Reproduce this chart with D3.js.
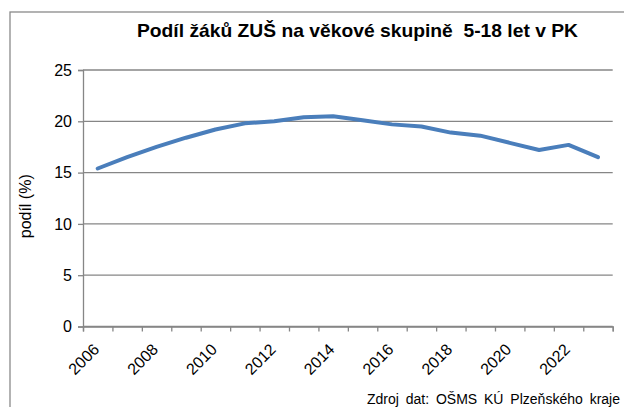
<!DOCTYPE html>
<html>
<head>
<meta charset="utf-8">
<script src="https://cdn.jsdelivr.net/npm/d3@7"></script>
<style>
  body { margin: 0; background: #fff; }
  text { font-family: "Liberation Sans", Arial, sans-serif; }
</style>
</head>
<body>
<div id="chart"></div>
<script>
// data
var years = ["2006", "2007", "2008", "2009", "2010", "2011", "2012", "2013", "2014",
             "2015", "2016", "2017", "2018", "2019", "2020", "2021", "2022", "2023"];
var podil = [15.4, 16.5, 17.5, 18.4, 19.2, 19.8, 20.0, 20.4, 20.5,
             20.1, 19.7, 19.5, 18.9, 18.6, 17.9, 17.2, 17.7, 16.5];
var yTicks = [0, 5, 10, 15, 20, 25];
var xLabels = ["2006", "2008", "2010", "2012", "2014", "2016", "2018", "2020", "2022"];

var W = 624, H = 407;
var plot = {left: 83, right: 612.7, top: 70, bottom: 326.5};
var gray = "#868686";

var svg = d3.select("#chart")
    .append("svg")
    .attr("width", W)
    .attr("height", H);

// outer frame (runs off the right and bottom edge)
svg.append("rect")
    .attr("x", 10).attr("y", 12)
    .attr("width", 640).attr("height", 420)
    .attr("fill", "none")
    .attr("stroke", "#8a8a8a")
    .attr("stroke-width", 1.3);

var x = d3.scaleBand()
    .domain(years)
    .range([plot.left, plot.right])
    .padding(0);

var y = d3.scaleLinear()
    .domain([0, 25])
    .range([plot.bottom, plot.top]);

// gridlines
svg.append("g")
    .selectAll("line")
    .data(yTicks)
    .enter()
    .append("line")
    .attr("x1", plot.left)
    .attr("x2", plot.right)
    .attr("y1", function(d) { return y(d); })
    .attr("y2", function(d) { return y(d); })
    .attr("stroke", gray)
    .attr("stroke-width", 1.3);

// y axis
var yAxis = svg.append("g")
    .attr("transform", "translate(" + plot.left + ",0)")
    .call(d3.axisLeft(y).tickValues(yTicks).tickSize(5).tickPadding(6));
yAxis.select(".domain").attr("stroke", gray).attr("stroke-width", 1.3);
yAxis.selectAll(".tick line").attr("stroke", gray).attr("stroke-width", 1.3);
yAxis.selectAll(".tick text")
    .attr("fill", "#000")
    .style("font-size", "16px")
    .style("font-family", "'Liberation Sans', Arial, sans-serif");

// x axis: tick marks sit between the categories
var xEdge = d3.scaleLinear().domain([0, years.length]).range([plot.left, plot.right]);
var xAxis = svg.append("g")
    .attr("transform", "translate(0," + plot.bottom + ")")
    .call(d3.axisBottom(xEdge).tickValues(d3.range(years.length + 1)).tickSize(5).tickFormat(""));
xAxis.select(".domain").attr("stroke", gray).attr("stroke-width", 1.3);
xAxis.selectAll(".tick line").attr("stroke", gray).attr("stroke-width", 1.3);

// rotated year labels
svg.append("g")
    .selectAll("text")
    .data(xLabels)
    .enter()
    .append("text")
    .attr("transform", function(d) {
        var cx = x(d) + x.bandwidth() / 2 + 2.5;
        return "translate(" + cx + "," + (plot.bottom + 24) + ") rotate(-45)";
    })
    .attr("text-anchor", "end")
    .style("font-size", "16px")
    .text(function(d) { return d; });

// line
var line = d3.line()
    .x(function(d, i) { return x(years[i]) + x.bandwidth() / 2; })
    .y(function(d) { return y(d); });

svg.append("path")
    .datum(podil)
    .attr("d", line)
    .attr("fill", "none")
    .attr("stroke", "#4a7ebb")
    .attr("stroke-width", 4)
    .attr("stroke-linejoin", "round")
    .attr("stroke-linecap", "round");

// title
svg.append("text")
    .attr("x", 137)
    .attr("y", 37)
    .attr("textLength", 441)
    .attr("lengthAdjust", "spacingAndGlyphs")
    .style("font-size", "18.5px")
    .style("font-weight", "bold")
    .style("white-space", "pre")
    .text("Podíl žáků ZUŠ na věkové skupině  5-18 let v PK");

// y axis title
svg.append("text")
    .attr("transform", "translate(31," + ((plot.top + plot.bottom) / 2 + 8) + ") rotate(-90)")
    .attr("text-anchor", "middle")
    .style("font-size", "16px")
    .text("podíl (%)");

// source
svg.append("text")
    .attr("x", 620)
    .attr("y", 404)
    .attr("text-anchor", "end")
    .style("font-size", "14px")
    .style("word-spacing", "3px")
    .text("Zdroj dat: OŠMS KÚ Plzeňského kraje");
</script>
</body>
</html>
